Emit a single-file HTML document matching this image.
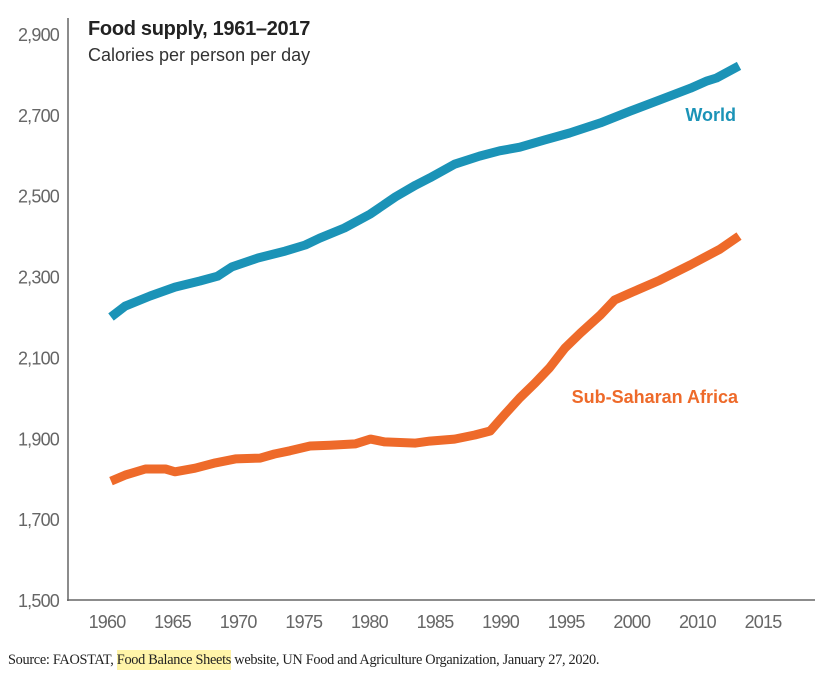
<!DOCTYPE html>
<html><head><meta charset="utf-8"><style>
body{margin:0;background:#fff;width:821px;height:682px;overflow:hidden;font-family:"Liberation Sans",sans-serif}
svg{position:absolute;left:0;top:0}
#src{position:absolute;left:8px;top:652px;font-family:"Liberation Serif",serif;font-size:14.3px;color:#222;letter-spacing:-0.3px;white-space:nowrap}
#src span{background:#fff4a8;padding:2px 0}
</style></head><body>
<svg id="chart" width="821" height="682"></svg>
<div id="src">Source: FAOSTAT, <span>Food Balance Sheets</span> website, UN Food and Agriculture Organization, January 27, 2020.</div>
<script>
const yTicks=[1500,1700,1900,2100,2300,2500,2700,2900];
const xTickLabels=["1960","1965","1970","1975","1980","1985","1990","1995","2000","2010","2015"];
const worldYears=[1960,1961.2,1963.3,1965.4,1967.5,1969,1970.2,1972.4,1974.7,1976.4,1977.6,1979.7,1981.9,1984,1985.7,1986.9,1989,1991.1,1992.8,1994.5,1996.6,1998.7,2001.3,2003.8,2006.3,2008.9,2010.3,2011.1,2013];
const worldValues=[2200,2227,2252,2274,2289,2301,2324,2346,2363,2378,2395,2420,2455,2497,2526,2544,2578,2598,2611,2620,2638,2655,2680,2709,2737,2766,2784,2791,2821];
const africaYears=[1960,1961.2,1962.9,1964.6,1965.4,1967.1,1968.8,1970.5,1972.6,1973.8,1975.1,1976.8,1978.5,1980.6,1981.9,1983.1,1985.7,1986.9,1989,1990.7,1992,1993.2,1994.5,1995.8,1997,1998.3,1999.6,2001.3,2002.5,2003.8,2006.3,2008.9,2011.4,2013];
const africaValues=[1794,1809,1824,1824,1817,1826,1839,1849,1851,1861,1869,1881,1883,1886,1898,1891,1888,1893,1898,1908,1918,1958,2000,2037,2074,2123,2160,2205,2242,2259,2291,2329,2368,2400];
const NS="http://www.w3.org/2000/svg";
const svg=document.getElementById('chart');
const yS=v=>600-(v-1500)/200*80.86;
const xS=yr=>111+(yr-1960)*11.85;
function mk(tag,attrs,parent){const e=document.createElementNS(NS,tag);for(const k in attrs)e.setAttribute(k,attrs[k]);(parent||svg).appendChild(e);return e;}
const ax=mk('line',{x1:68,y1:18,x2:68,y2:601,stroke:'#666','stroke-width':1.5});


const bx=mk('line',{x1:67,y1:600,x2:815,y2:600,stroke:'#666','stroke-width':1.5});


yTicks.forEach(v=>{const t=mk('text',{x:59,y:yS(v)+7,'text-anchor':'end','font-size':'18',fill:'#666','letter-spacing':'-0.8'});t.textContent=v.toLocaleString('en-US');

});
xTickLabels.forEach((l,i)=>{const t=mk('text',{x:107+i*65.6,y:628,'text-anchor':'middle','font-size':'18',fill:'#666','letter-spacing':'-0.8'});t.textContent=l;

});
function line(xs,vs,color,name){const d=xs.map((x,i)=>(i?'L':'M')+xS(x).toFixed(1)+','+yS(vs[i]).toFixed(1)).join('');
const p=mk('path',{d:d,fill:'none',stroke:color,'stroke-width':9,'stroke-linejoin':'round'});

}
line(worldYears,worldValues,'#1b93b7','world-line');
line(africaYears,africaValues,'#ee6a2a','sub-saharan-africa-line');
const t1=mk('text',{x:88,y:35,'font-size':'20','font-weight':'bold',fill:'#222','letter-spacing':'-0.3'});t1.textContent='Food supply, 1961–2017';


const t2=mk('text',{x:88,y:61,'font-size':'18',fill:'#333'});t2.textContent='Calories per person per day';


const l1=mk('text',{x:736,y:121,'text-anchor':'end','font-size':'18','font-weight':'bold',fill:'#1b93b7'});l1.textContent='World';


const l2=mk('text',{x:738,y:403,'text-anchor':'end','font-size':'18','font-weight':'bold',fill:'#ee6a2a'});l2.textContent='Sub-Saharan Africa';


</script>
</body></html>
